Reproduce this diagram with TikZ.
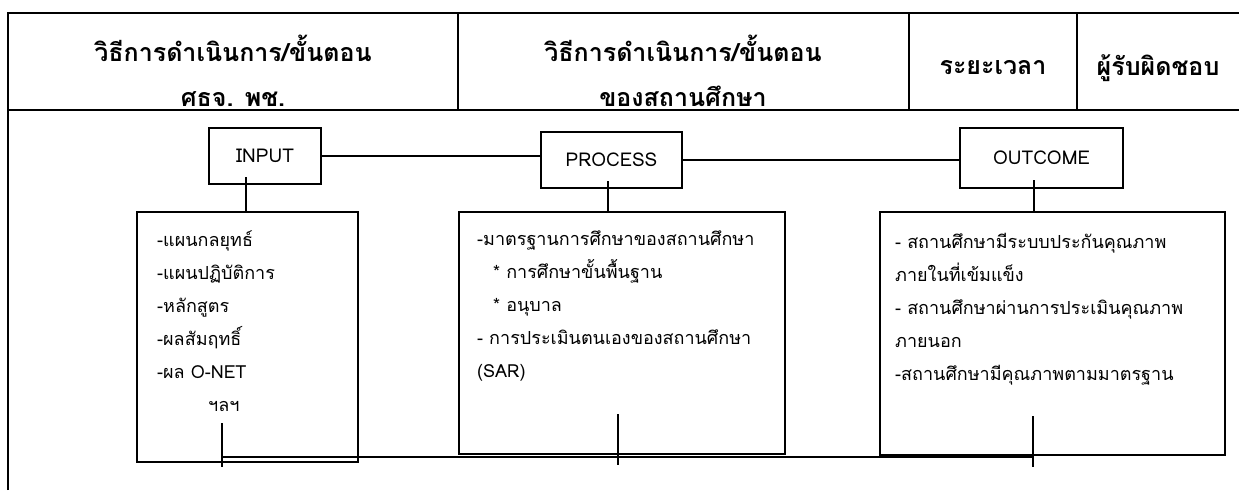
\documentclass[tikz,border=0pt]{standalone}
\usepackage{fontspec}
\setmainfont[Script=Thai]{Loma}
\begin{document}
\begin{tikzpicture}[
    x=1pt, y=-1pt,
    grid/.style={line width=1.6pt},
    head/.style={font=\fontsize{25}{45}\selectfont\bfseries, align=center, inner sep=0pt},
    tag/.style={draw, line width=1.2pt, minimum height=56pt, inner sep=0pt, outer sep=0pt, font=\fontsize{19}{20}\selectfont},
    frame/.style={draw, line width=1.2pt, inner sep=0pt, outer sep=0pt, anchor=north west},
    body/.style={font=\fontsize{18}{33}\selectfont, align=left, anchor=north west, inner sep=0pt},
    link/.style={line width=1.2pt}
  ]
  \useasboundingbox (0,0) rectangle (1239,490);

  % Table frame and header row
  \draw[grid] (8,490) -- (8,13) -- (1239,13);
  \draw[grid] (8,110) -- (1239,110);
  \draw[grid] (458,13) -- (458,110);
  \draw[grid] (909,13) -- (909,110);
  \draw[grid] (1077,13) -- (1077,110);

  \node[head] (hstep) at (233,71) {วิธีการดำเนินการ/ขั้นตอน\\ศธจ. พช.};
  \node[head] (hschool) at (683,71) {วิธีการดำเนินการ/ขั้นตอน\\ของสถานศึกษา};
  \node[head] (htime) at (993,68) {ระยะเวลา};
  \node[head] (hresp) at (1158,68) {ผู้รับผิดชอบ};

  % The three headings
  \node[tag, minimum width=112pt] (input) at (265,156) {INPUT};
  \node[tag, minimum width=141pt] (process) at (611.5,160) {PROCESS};
  \node[tag, minimum width=163pt, minimum height=60pt] (outcome) at (1041.5,158) {OUTCOME};

  \draw[link] (input.east) -- (input.east -| process.west);
  \draw[link] (process.west -| process.east) -- (process.west -| outcome.west);

  % Boxes below the headings
  \node[frame, minimum width=221pt, minimum height=250pt] (inframe) at (137,212) {};
  \node[frame, minimum width=326pt, minimum height=242pt] (procframe) at (459,212) {};
  \node[frame, minimum width=345pt, minimum height=243pt] (outframe) at (880,212) {};

  \node[body] (intext) at (157,231) {-แผนกลยุทธ์\\-แผนปฏิบัติการ\\-หลักสูตร\\-ผลสัมฤทธิ์\\-ผล O-NET\\\hspace*{51pt}ฯลฯ};
  \node[body] (proctext) at (477,231) {-มาตรฐานการศึกษาของสถานศึกษา\\\hspace*{16pt}* การศึกษาขั้นพื้นฐาน\\\hspace*{16pt}* อนุบาล\\- การประเมินตนเองของสถานศึกษา\\(SAR)};
  \node[body] (outtext) at (895,233) {- สถานศึกษามีระบบประกันคุณภาพ\\ภายในที่เข้มแข็ง\\- สถานศึกษาผ่านการประเมินคุณภาพ\\ภายนอก\\-สถานศึกษามีคุณภาพตามมาตรฐาน};

  % Stubs from headings down to boxes
  \coordinate (inup) at (246,177);
  \coordinate (procup) at (608,181);
  \coordinate (outup) at (1034,180);
  \draw[link] (inup) -- (inup |- inframe.north);
  \draw[link] (procup) -- (procup |- procframe.north);
  \draw[link] (outup) -- (outup |- outframe.north);

  % Line joining the bottoms
  \coordinate (indown) at (222,423);
  \coordinate (inend) at (222,467);
  \coordinate (procdown) at (618,414);
  \coordinate (procend) at (618,465);
  \coordinate (outdown) at (1033,416);
  \coordinate (outend) at (1033,467);
  \draw[link] (indown) -- (inend);
  \draw[link] (procdown) -- (procend);
  \draw[link] (outdown) -- (outend);
  \draw[link] (indown |- 0,457) -- (outdown |- 0,457);

\end{tikzpicture}
\end{document}
